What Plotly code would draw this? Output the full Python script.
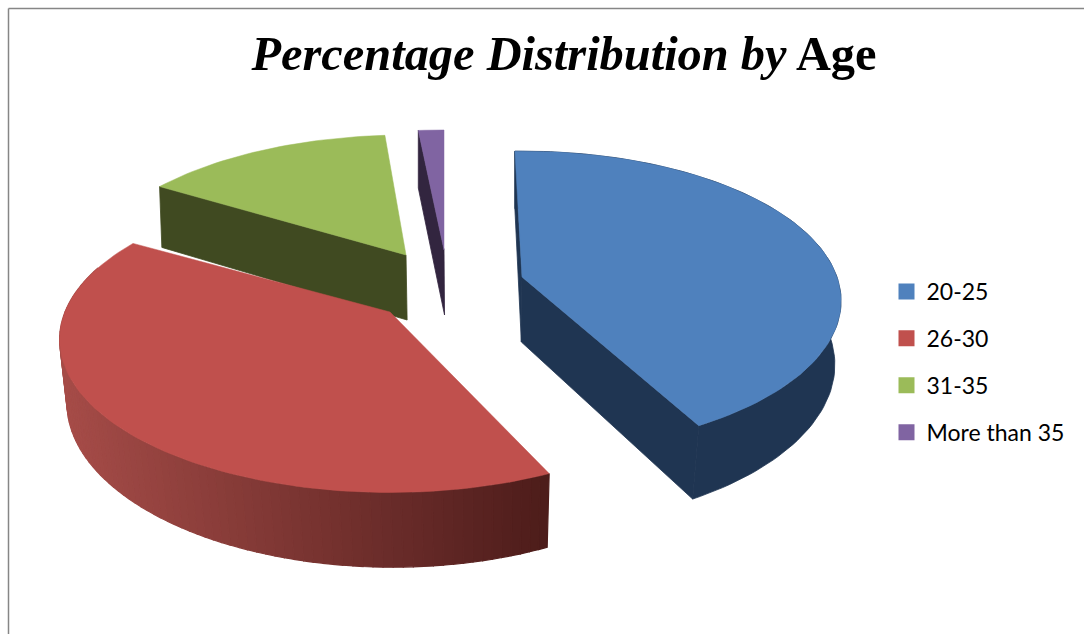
import math
import plotly.graph_objects as go

# ---- data ----
categories = ["20-25", "26-30", "31-35", "More than 35"]
values = [42.4, 41.4, 14.8, 1.4]

# ---- style ----
top_colors = ["#4F81BD", "#C0504D", "#9BBB59", "#8064A2"]
wall_colors = ["#1F3552", None, "#404A21", "#32253F"]
red_wall_left = (166, 76, 72)
red_wall_right = (76, 28, 26)
apex_px = [(522, 277), (390, 312), (406, 255), (444, 250)]
radius_x = [315.0, 325.0, 320.0, 325.0]
radius_y = [146.0, 148.0, 144.0, 144.0]
persp = [0.16, 0.18, 0.2, 0.2]
angle_adjust = [(-1.5, -1.5), (3.2, -1.3), (0.0, 0.5), (-0.4, 0.0)]
show_faces = [(True, True), (False, False), (True, False), (True, False)]
draw_order = [2, 3, 1, 0]
DEPTH, KD = 65.0, 0.13
W, H = 1084, 634


def project(i, u, v, low=False):
    ax, ay = apex_px[i]
    s = 1.0 / (1.0 + persp[i] * v)
    x = ax + radius_x[i] * u * s
    y = ay - radius_y[i] * v * s
    if low:
        y += DEPTH / (1.0 + KD * v)
        x = 480 + (x - 480) * (1 - 0.015 * (1 - v))
    return x, y


def arc(start, end, n):
    return [math.radians(start + (end - start) * j / n) for j in range(n + 1)]


def poly(pts, color, line=0.8):
    xs = [q[0] for q in pts]
    ys = [q[1] for q in pts]
    return go.Scatter(x=xs + xs[:1], y=ys + ys[:1], mode="lines", fill="toself",
                      fillcolor=color, line=dict(color=color, width=line),
                      hoverinfo="skip", showlegend=False)


fig = go.Figure()

# angular span of every slice, clockwise from twelve o'clock
spans = []
acc = 0.0
for val in values:
    spans.append((acc, acc + val * 3.6))
    acc += val * 3.6

for i in draw_order:
    a0, a1 = spans[i]
    a0 += angle_adjust[i][0]
    a1 += angle_adjust[i][1]
    n = max(4, int((a1 - a0) / 1.5))
    pts = [(math.sin(t), math.cos(t)) for t in arc(a0, a1, n)]

    base = wall_colors[i] or "#6B2A29"
    # radial faces that face the viewer
    for (u, v), visible in zip((pts[0], pts[-1]), show_faces[i]):
        if visible:
            fig.add_trace(poly([project(i, 0, 0), project(i, u, v),
                                project(i, u, v, True), project(i, 0, 0, True)], base))
    # outer wall
    if i == 0:
        fig.add_trace(poly([project(i, u, v) for u, v in pts] +
                           [project(i, u, v, True) for u, v in reversed(pts)], base))
    elif wall_colors[i] is None:
        for j in range(n):
            (u0, v0), (u1, v1) = pts[j], pts[j + 1]
            if v0 > 0.3 and v1 > 0.3:
                continue
            p = [project(i, u0, v0), project(i, u1, v1),
                 project(i, u1, v1, True), project(i, u0, v0, True)]
            f = min(1, max(0, ((p[0][0] + p[1][0]) / 2 - 60) / (551 - 60)))
            c = [round(a + (b - a) * f) for a, b in zip(red_wall_left, red_wall_right)]
            fig.add_trace(poly(p, "rgb(%d,%d,%d)" % tuple(c), 1.2))
    # top face
    fig.add_trace(poly([project(i, 0, 0)] + [project(i, u, v) for u, v in pts],
                       top_colors[i], 0.5))

# legend entries
for i, name in enumerate(categories):
    fig.add_trace(go.Scatter(x=[None], y=[None], mode="markers", name=name,
                             legendgroup=name,
                             marker=dict(symbol="square", size=16, color=top_colors[i])))

# chart-area border (top and left only, as in the reference)
fig.add_shape(type="line", xref="x", yref="y", x0=8.5, x1=1084, y0=8.5, y1=8.5,
              line=dict(color="#868686", width=1.5))
fig.add_shape(type="line", xref="x", yref="y", x0=8.5, x1=8.5, y0=8.5, y1=634,
              line=dict(color="#868686", width=1.5))

fig.update_layout(
    width=W, height=H, margin=dict(l=0, r=0, t=0, b=0),
    paper_bgcolor="white", plot_bgcolor="white",
    xaxis=dict(range=[0, W], visible=False, fixedrange=True),
    yaxis=dict(range=[H, 0], visible=False, fixedrange=True),
    title=dict(text="<b><i>Percentage Distribution by</i> Age</b>",
               font=dict(family="Liberation Serif", size=48.4, color="black"),
               x=564 / W, xanchor="center", xref="paper",
               y=1 - 53 / H, yanchor="middle", yref="paper"),
    legend=dict(x=886.5 / W, xanchor="left", y=1 - 362 / H, yanchor="middle",
                font=dict(family="Lato", size=23, color="black"),
                tracegroupgap=14, itemwidth=30, bgcolor="rgba(0,0,0,0)"),
    showlegend=True,
)

fig.write_html("out.html", post_script="document.body.style.margin='0';",
               config=dict(displayModeBar=False))
